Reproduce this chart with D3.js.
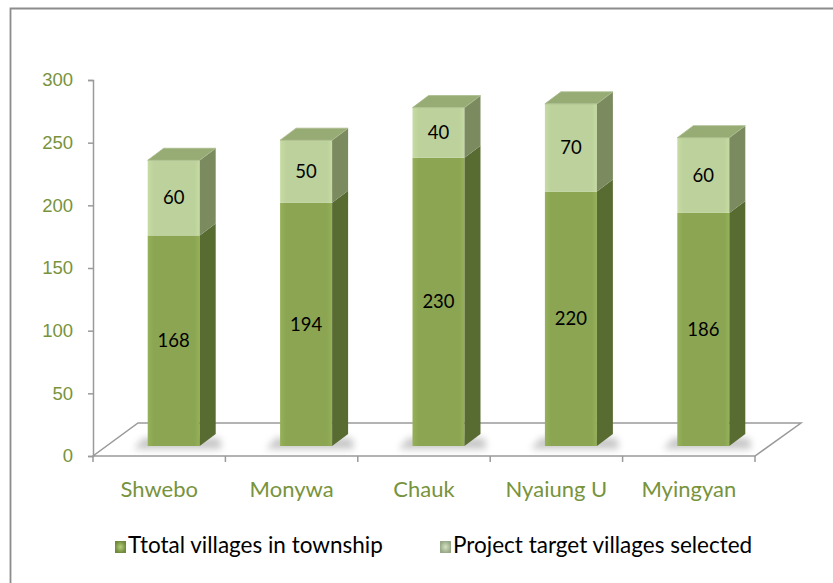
<!DOCTYPE html>
<html>
<head>
<meta charset="utf-8">
<script src="https://cdn.jsdelivr.net/npm/d3@7"></script>
<style>
  body { margin: 0; background: #fff; }
  svg { display: block; font-family: Lato, "Open Sans", sans-serif; }
</style>
</head>
<body>
<svg id="chart" width="833" height="583"></svg>
<script>
// chart data
const townships = ["Shwebo", "Monywa", "Chauk", "Nyaiung U", "Myingyan"];
const totalVillages = [168, 194, 230, 203, 186];     // bar heights as drawn
const targetVillages = [60, 50, 40, 70, 60];
const totalLabels = ["168", "194", "230", "220", "186"]; // printed labels
const targetLabels = ["60", "50", "40", "70", "60"];
const yTicks = [0, 50, 100, 150, 200, 250, 300];
const seriesNames = ["Ttotal villages in township", "Project target villages selected"];

const svg = d3.select("#chart");

// outer frame (runs off the right and bottom edges)
svg.append("path")
  .attr("d", "M10.5,583 L10.5,8.5 L833,8.5")
  .attr("fill", "none")
  .attr("stroke", "#8c8c8c")
  .attr("stroke-width", 1.8);

const y = d3.scaleLinear().domain([0, 300]).range([456, 80]);
const x = d3.scaleBand().domain(townships).range([93, 755]);

// 3d settings
const floorDx = 45, floorDy = -33;   // floor depth
const barOffX = 14.5, barOffY = -10;  // how far back the bars stand
const barW = 52, depDx = 16, depDy = -12;

const colors = {
  total: { front: "#8ba552", side: "#586c32" },
  target: { front: "#bcd19b", side: "#7b8b5f" },
  top: "#97ab75"
};

const defs = svg.append("defs");
const blur = defs.append("filter").attr("id", "shadowBlur")
  .attr("x", "-50%").attr("y", "-100%").attr("width", "200%").attr("height", "300%");
blur.append("feGaussianBlur").attr("stdDeviation", 3.5);

function addGrad(id, c1, c2) {
  const g = defs.append("linearGradient").attr("id", id);
  g.append("stop").attr("offset", "0%").attr("stop-color", c2);
  g.append("stop").attr("offset", "12%").attr("stop-color", c1);
  g.append("stop").attr("offset", "90%").attr("stop-color", c1);
  g.append("stop").attr("offset", "100%").attr("stop-color", c2);
}
addGrad("gradTotal", colors.total.front, d3.color(colors.total.front).brighter(0.2));
addGrad("gradTarget", colors.target.front, d3.color(colors.target.front).brighter(0.15));

// floor
const x0 = x.range()[0], x1 = x.range()[1], yb = y(0);
svg.append("path")
  .attr("d", `M${x0},${yb} L${x1},${yb} L${x1 + floorDx + 1},${yb + floorDy} L${x0 + floorDx},${yb + floorDy} Z`)
  .attr("fill", "#fff")
  .attr("stroke", "#9a9a9a")
  .attr("stroke-width", 1.5);

// y axis
const yAxis = svg.append("g")
  .attr("transform", `translate(${x0},0)`)
  .call(d3.axisLeft(y).tickValues(yTicks).tickSize(5).tickPadding(15));
yAxis.select(".domain").attr("stroke", "#9a9a9a").attr("stroke-width", 1.5);
yAxis.selectAll(".tick line").attr("stroke", "#9a9a9a").attr("stroke-width", 1.5);
yAxis.selectAll(".tick text")
  .attr("fill", "#77933c")
  .style("font-size", "18.5px");

// x axis: boundary ticks + category labels
const bounds = townships.map((d) => x(d)).concat([x1]);
svg.append("g").selectAll("line")
  .data(bounds)
  .join("line")
  .attr("x1", (d) => d).attr("x2", (d) => d)
  .attr("y1", yb).attr("y2", yb + 6)
  .attr("stroke", "#9a9a9a").attr("stroke-width", 1.5);

svg.append("g").selectAll("text")
  .data(townships)
  .join("text")
  .attr("x", (d) => x(d) + x.bandwidth() / 2)
  .attr("y", 497)
  .attr("text-anchor", "middle")
  .attr("fill", "#77933c")
  .style("font-size", "22px")
  .text((d) => d);

// stacked bars
const rows = townships.map((t, i) => ({ t, total: totalVillages[i], target: targetVillages[i], i }));
const stack = d3.stack().keys(["total", "target"])(rows);

const barLeft = (t) => x(t) + (x.bandwidth() - barW) / 2 + barOffX;

// soft shadows on the floor
svg.append("g").selectAll("path")
  .data(rows)
  .join("path")
  .attr("d", (d) => {
    const l = barLeft(d.t), b = y(0) + barOffY;
    return `M${l - 14},${b + 3} L${l + barW + depDx + 6},${b + 3} L${l + barW + depDx + 4},${b - 8} L${l - 4},${b - 8} Z`;
  })
  .attr("fill", "#9a9a9a")
  .attr("opacity", 0.55)
  .attr("filter", "url(#shadowBlur)");

const bars = svg.append("g");
stack.forEach((series) => {
  const key = series.key;
  const col = colors[key];
  const g = bars.append("g");
  series.forEach((s) => {
    const t = s.data.t;
    const l = barLeft(t), r = l + barW;
    const top = y(s[1]) + barOffY, bot = y(s[0]) + barOffY;
    g.append("rect")
      .attr("x", l).attr("y", top)
      .attr("width", barW).attr("height", bot - top)
      .attr("fill", key === "total" ? "url(#gradTotal)" : "url(#gradTarget)");
    g.append("path")
      .attr("d", `M${r},${top} L${r + depDx},${top + depDy} L${r + depDx},${bot + depDy} L${r},${bot} Z`)
      .attr("fill", col.side);
    if (key === "target") {
      g.append("path")
        .attr("d", `M${l},${top} L${l + depDx},${top + depDy} L${r + depDx},${top + depDy} L${r},${top} Z`)
        .attr("fill", colors.top)
        .attr("stroke", "#a9bb8c").attr("stroke-width", 0.8).attr("stroke-linejoin", "round");
    }
  });
});

// data labels, centred on the front face of each segment
const labelSets = { total: totalLabels, target: targetLabels };
stack.forEach((series) => {
  svg.append("g").selectAll("text")
    .data(series)
    .join("text")
    .attr("x", (s) => barLeft(s.data.t) + barW / 2)
    .attr("y", (s) => (y(s[0]) + y(s[1])) / 2 + barOffY)
    .attr("dy", "0.35em")
    .attr("text-anchor", "middle")
    .attr("fill", "#000")
    .style("font-size", "18.5px")
    .text((s) => labelSets[series.key][s.data.i]);
});

// legend
const legendItems = [
  { name: seriesNames[0], x: 115, c1: "#6f8a3a", c2: "#b5cf7c" },
  { name: seriesNames[1], x: 440, c1: "#98a98a", c2: "#d5e2c0" }
];
const legend = svg.append("g").attr("id", "legend");
legendItems.forEach((d, i) => {
  const gid = "legGrad" + i;
  const rg = defs.append("radialGradient").attr("id", gid);
  rg.append("stop").attr("offset", "0%").attr("stop-color", d.c2);
  rg.append("stop").attr("offset", "100%").attr("stop-color", d.c1);
  legend.append("rect")
    .attr("x", d.x).attr("y", 541).attr("width", 11).attr("height", 12)
    .attr("fill", `url(#${gid})`);
  legend.append("text")
    .attr("x", d.x + 13).attr("y", 553)
    .attr("fill", "#000")
    .style("font-size", "22.5px")
    .text(d.name);
});
</script>
</body>
</html>
